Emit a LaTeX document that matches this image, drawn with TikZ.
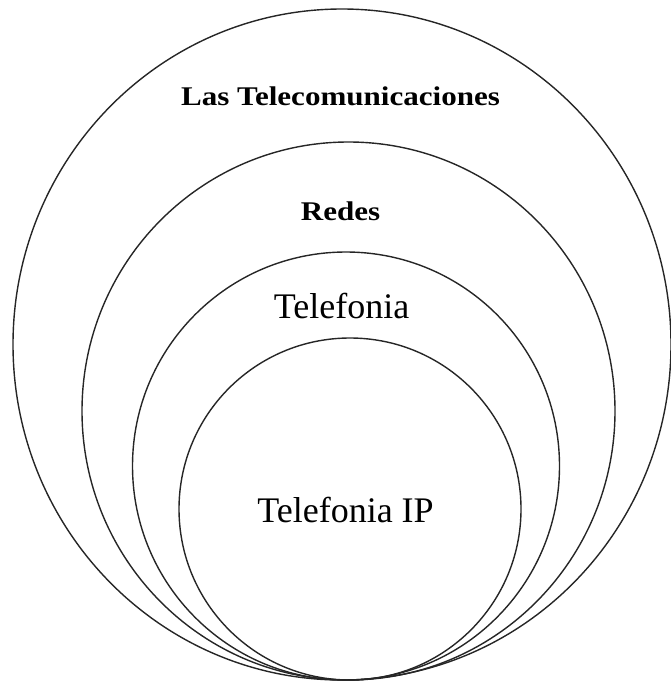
\documentclass[tikz,border=0pt]{standalone}
\usepackage{fontspec}
\setmainfont{Liberation Serif}
\begin{document}
\begin{tikzpicture}[x=1pt,y=-1pt,
  ring/.style={draw=black!85,line width=1.4pt},
  boldlabel/.style={anchor=base,inner sep=0pt,xscale=1.15,
    font=\fontsize{27}{27}\selectfont\bfseries},
  plainlabel/.style={anchor=base,inner sep=0pt,
    font=\fontsize{36}{36}\selectfont}]
  \useasboundingbox (0,0) rectangle (671,682);
  % nested rings, all touching at the bottom
  \draw[ring] (342,344.5) ellipse [x radius=329,y radius=335.5];
  \draw[ring] (348.5,411) ellipse [x radius=266.5,y radius=269];
  \draw[ring] (346,466) ellipse [x radius=213.5,y radius=214];
  \draw[ring] (350,509) ellipse [x radius=171,y radius=171];
  % labels
  \node[boldlabel] (tele) at (340.5,106) {Las Telecomunicaciones};
  \node[boldlabel] (redes) at (340.5,220) {Redes};
  \node[plainlabel] (telef) at (341.5,318) {Telefonia};
  \node[plainlabel] (telip) at (345.5,522) {Telefonia IP};
\end{tikzpicture}
\end{document}
